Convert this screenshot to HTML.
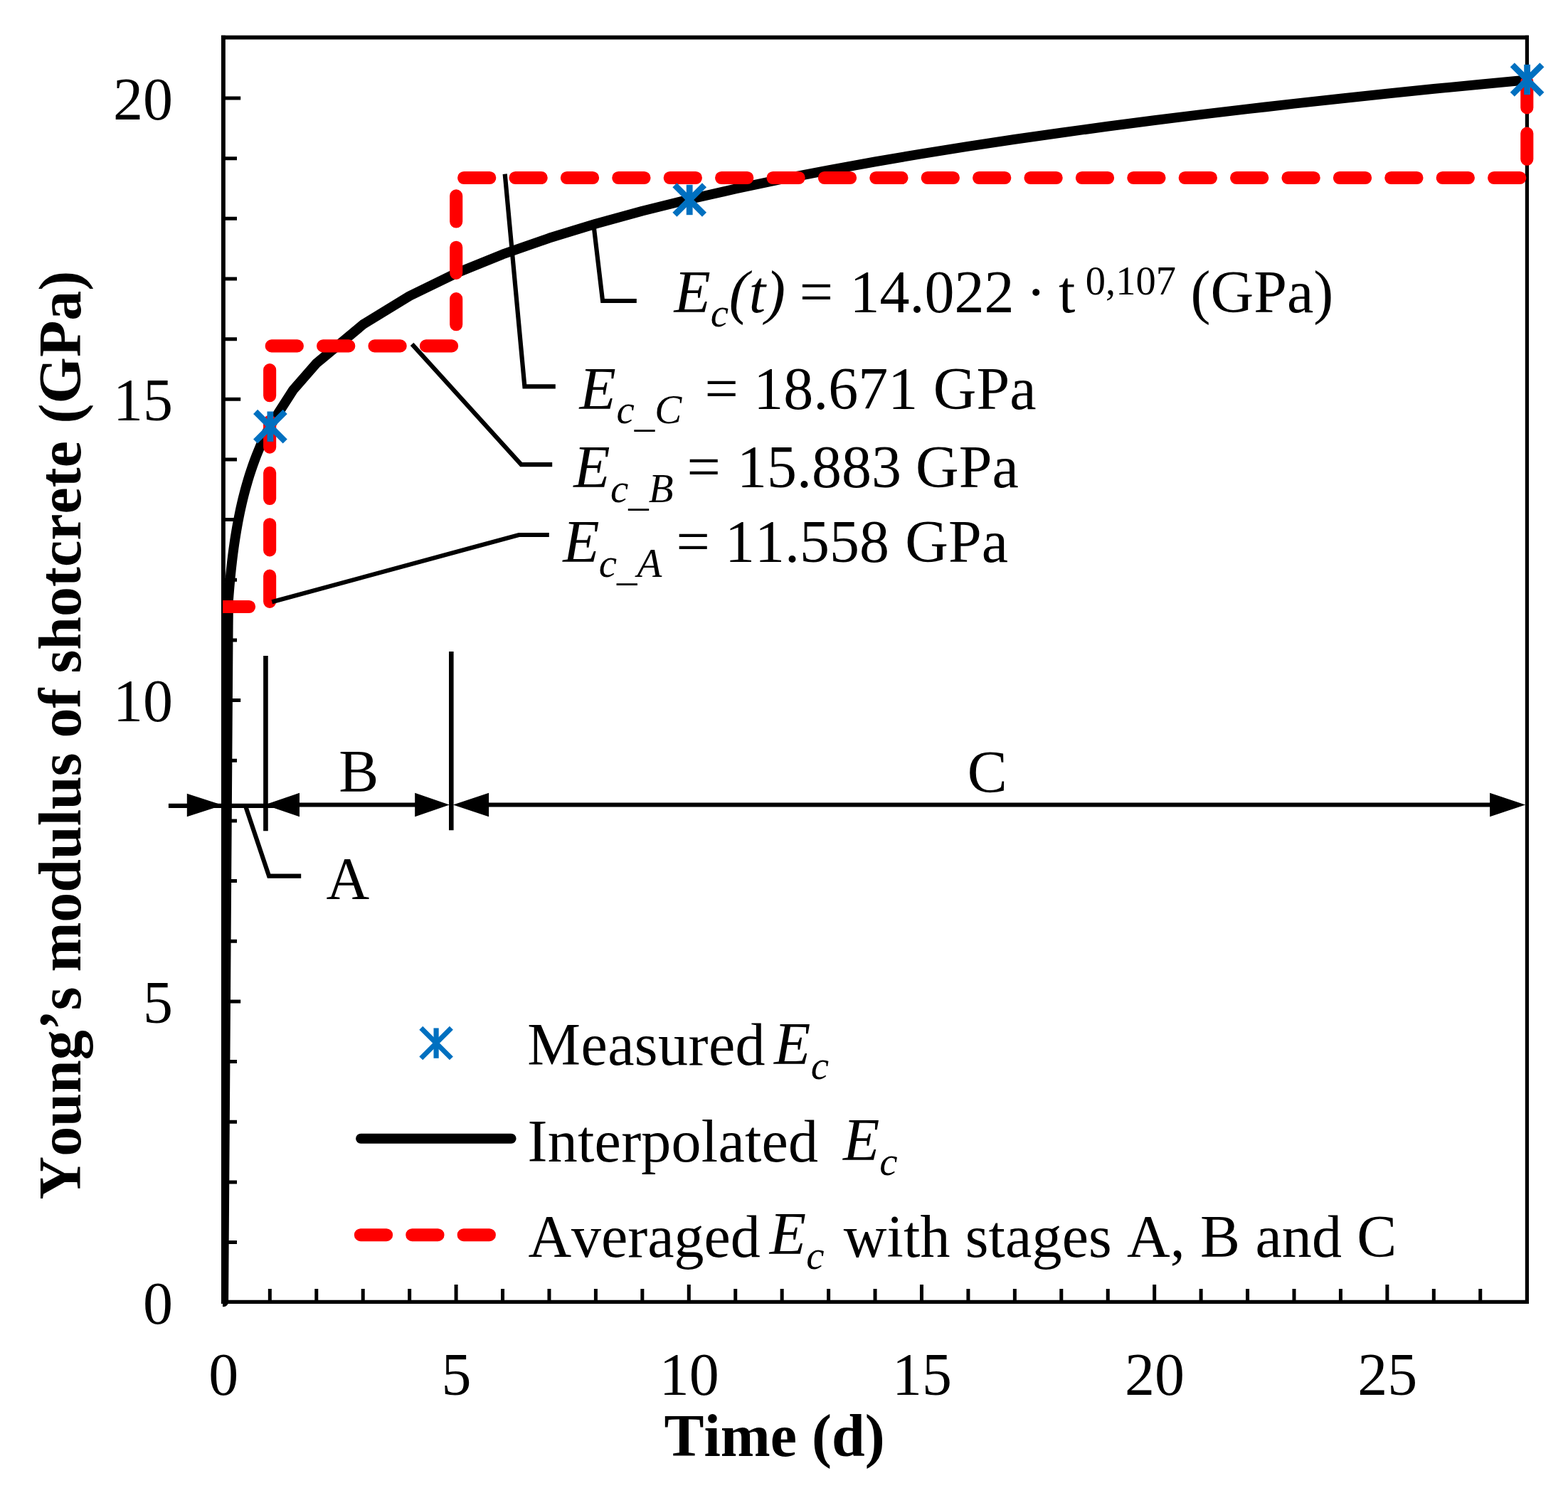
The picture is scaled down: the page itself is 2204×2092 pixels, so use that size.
<!DOCTYPE html>
<html lang="en"><head><meta charset="utf-8"><title>Young’s modulus of shotcrete over time</title>
<style>html,body{margin:0;padding:0;background:#fff}body{width:2204px;height:2092px}svg{display:block}text{font-family:"Liberation Serif","Times New Roman",serif;font-kerning:none;font-variant-ligatures:none;fill:#000;white-space:pre}.i{font-style:italic}.b{font-weight:bold}</style>
</head><body>
<svg width="2204" height="2092" viewBox="0 0 2204 2092">
<defs><clipPath id="cc"><rect x="312.9" y="0" width="1900" height="1845"/></clipPath><clipPath id="cr"><rect x="313.2" y="0" width="1900" height="1900"/></clipPath></defs>
<rect width="2204" height="2092" fill="#fff"/>
<g stroke="#000" fill="none" stroke-linecap="butt">
<path d="M313.9 49.8V1833.05" stroke-width="5.9"/>
<path d="M310.95 52.6H2149.0" stroke-width="5.6"/>
<path d="M2146.4 49.8V1833.05" stroke-width="5.2"/>
<path d="M310.95 1830.4H2149.0" stroke-width="5.3"/>
<path d="M313.9 1746.54H333.0M313.9 1661.88H333.0M313.9 1577.22H333.0M313.9 1492.56H333.0M313.9 1407.90H338.2M313.9 1323.24H333.0M313.9 1238.58H333.0M313.9 1153.92H333.0M313.9 1069.26H333.0M313.9 984.60H338.2M313.9 899.94H333.0M313.9 815.28H333.0M313.9 730.62H333.0M313.9 645.96H333.0M313.9 561.30H338.2M313.9 476.64H333.0M313.9 391.98H333.0M313.9 307.32H333.0M313.9 222.66H333.0M313.9 138.00H338.2M379.34 1830.4V1812.1M444.78 1830.4V1812.1M510.22 1830.4V1812.1M575.66 1830.4V1812.1M641.10 1830.4V1806.0M706.54 1830.4V1812.1M771.97 1830.4V1812.1M837.41 1830.4V1812.1M902.85 1830.4V1812.1M968.29 1830.4V1806.0M1033.73 1830.4V1812.1M1099.17 1830.4V1812.1M1164.61 1830.4V1812.1M1230.05 1830.4V1812.1M1295.49 1830.4V1806.0M1360.93 1830.4V1812.1M1426.37 1830.4V1812.1M1491.81 1830.4V1812.1M1557.25 1830.4V1812.1M1622.69 1830.4V1806.0M1688.12 1830.4V1812.1M1753.56 1830.4V1812.1M1819.00 1830.4V1812.1M1884.44 1830.4V1812.1M1949.88 1830.4V1806.0M2015.32 1830.4V1812.1M2080.76 1830.4V1812.1" stroke-width="5"/>
</g>
<text x="243.1" y="1860.90" font-size="84" text-anchor="end">0</text>
<text x="243.1" y="1437.60" font-size="84" text-anchor="end">5</text>
<text x="243.1" y="1014.30" font-size="84" text-anchor="end">10</text>
<text x="243.1" y="591.00" font-size="84" text-anchor="end">15</text>
<text x="243.1" y="167.70" font-size="84" text-anchor="end">20</text>
<text x="314.30" y="1961" font-size="84" text-anchor="middle">0</text>
<text x="641.50" y="1961" font-size="84" text-anchor="middle">5</text>
<text x="968.69" y="1961" font-size="84" text-anchor="middle">10</text>
<text x="1295.89" y="1961" font-size="84" text-anchor="middle">15</text>
<text x="1623.09" y="1961" font-size="84" text-anchor="middle">20</text>
<text x="1950.28" y="1961" font-size="84" text-anchor="middle">25</text>
<text transform="translate(112.7 1686.38) rotate(-90)" font-size="84" class="b">Young’s modulus of shotcrete<tspan dx="3.6"> (GPa)</tspan></text>
<text x="933.49" y="2046.70" font-size="84" class="b">Time (d)</text>
<path d="M314.20 1830.40L320.70 880.00L321.10 843.04L321.53 837.27L321.99 831.47L322.47 825.63L322.99 819.76L323.53 813.85L324.11 807.91L324.72 801.94L325.37 795.93L326.06 789.88L326.79 783.80L327.56 777.68L328.38 771.53L329.25 765.34L330.17 759.12L331.15 752.86L332.19 746.56L333.28 740.23L334.45 733.86L335.68 727.45L336.99 721.00L338.37 714.52L339.84 708.00L341.40 701.44L343.05 694.84L344.79 688.21L346.65 681.53L348.61 674.82L350.70 668.06L352.90 661.27L355.24 654.44L357.72 647.57L360.35 640.65L363.14 633.70L366.10 626.71L369.23 619.67L372.55 612.60L376.07 605.48L379.34 599.18L412.06 548.23L444.78 510.81L510.22 456.21L575.66 416.10L641.10 384.18L706.54 357.58L771.97 334.70L837.41 314.59L902.85 296.63L968.29 280.38L1033.73 265.54L1099.17 251.87L1164.61 239.18L1230.05 227.34L1295.49 216.25L1360.93 205.79L1426.37 195.92L1491.81 186.55L1557.25 177.63L1622.69 169.13L1688.12 161.01L1753.56 153.23L1819.00 145.75L1884.44 138.57L1949.88 131.65L2015.32 124.97L2080.76 118.52L2146.50 112.29" stroke="#000" stroke-width="13.8" stroke-linecap="round" stroke-linejoin="round" fill="none" clip-path="url(#cc)"/>
<path d="M313.9 853.0H379.15V486.4H641.2V250.0H2146.3V112.5" stroke="#f00" stroke-width="18.1" stroke-dasharray="36.2 36.2" stroke-linecap="round" stroke-linejoin="round" fill="none" clip-path="url(#cr)"/>
<path d="M359.10 578.90L400.70 620.50M359.10 620.50L400.70 578.90" stroke="#0070c0" stroke-width="8.6" fill="none"/><path d="M379.90 578.50V620.90" stroke="#0070c0" stroke-width="8.8" fill="none"/>
<path d="M948.40 260.20L990.00 301.80M948.40 301.80L990.00 260.20" stroke="#0070c0" stroke-width="8.6" fill="none"/><path d="M969.20 259.80V302.20" stroke="#0070c0" stroke-width="8.8" fill="none"/>
<path d="M2125.80 91.20L2167.40 132.80M2125.80 132.80L2167.40 91.20" stroke="#0070c0" stroke-width="8.6" fill="none"/><path d="M2146.60 90.80V133.20" stroke="#0070c0" stroke-width="8.8" fill="none"/>
<g stroke="#000" stroke-width="6.2" fill="none" stroke-linejoin="miter" stroke-miterlimit="10">
<path d="M834.4 316.0L847.1 423.0L894.8 423.0"/>
<path d="M709.7 244.6L737.4 543.4L780.8 543.4"/>
<path d="M579.1 483.8L732.6 653.2L776.2 653.2"/>
<path d="M382.3 846.3L729.4 752.0L771.8 752.0"/>
<path d="M345.0 1133.0L378.1 1231.7L423.2 1231.7"/>
</g>
<path d="M236.9 1132.8H395M420 1131.5H584.2M686.1 1131.5H2095.1" stroke="#000" stroke-width="6.2" fill="none"/>
<path d="M313.0 1132.0L262.8 1115.7V1148.3Z" fill="#000"/>
<path d="M372.0 1131.5L421.0 1114.65V1148.35Z" fill="#000"/>
<path d="M631.8 1131.5L583.2 1114.65V1148.35Z" fill="#000"/>
<path d="M636.8 1131.5L687.1 1114.65V1148.35Z" fill="#000"/>
<path d="M2144.2 1131.5L2094.1 1114.65V1148.35Z" fill="#000"/>
<path d="M373.45 922V1168.2M634.3 915.9V1167.2" stroke="#000" stroke-width="6.6" fill="none"/>
<text x="947.58" y="438.90" font-size="84" class="i">E</text>
<text x="998.73" y="459.30" font-size="57" class="i">c</text>
<text x="1024.82" y="438.90" font-size="84" class="i">(t)</text>
<text x="1123.87" y="438.90" font-size="84">=</text>
<text x="1194.45" y="438.90" font-size="84">14.022</text>
<text x="1442.16" y="438.90" font-size="84">·</text>
<text x="1488.07" y="438.90" font-size="84">t</text>
<text x="1525.75" y="414.00" font-size="56.5">0,107</text>
<text x="1673.54" y="438.90" font-size="84">(GPa)</text>
<text x="814.38" y="574.50" font-size="84" class="i">E</text>
<text x="866.54" y="595.10" font-size="57" class="i">c<tspan dy="5.2">_</tspan><tspan dy="-5.2">C</tspan></text>
<text x="990.57" y="574.50" font-size="84">=</text>
<text x="1059.30" y="574.50" font-size="84">18.671</text>
<text x="1311.81" y="574.50" font-size="84">GPa</text>
<text x="806.28" y="684.90" font-size="84" class="i">E</text>
<text x="857.95" y="705.50" font-size="57" class="i">c<tspan dy="5.2">_</tspan><tspan dy="-5.2">B</tspan></text>
<text x="965.47" y="684.90" font-size="84">=</text>
<text x="1036.00" y="684.90" font-size="84">15.883</text>
<text x="1287.11" y="684.90" font-size="84">GPa</text>
<text x="791.18" y="790.40" font-size="84" class="i">E</text>
<text x="841.65" y="811.00" font-size="57" class="i">c<tspan dy="5.2">_</tspan><tspan dy="-5.2">A</tspan></text>
<text x="950.42" y="790.40" font-size="84">=</text>
<text x="1019.10" y="790.40" font-size="84">11.558</text>
<text x="1272.26" y="790.40" font-size="84">GPa</text>
<text x="476.23" y="1113.20" font-size="84">B</text>
<text x="1359.83" y="1114.40" font-size="84">C</text>
<text x="458.42" y="1264.00" font-size="84">A</text>
<path d="M591.80 1445.30L634.40 1487.90M591.80 1487.90L634.40 1445.30" stroke="#0070c0" stroke-width="7.0" fill="none"/><path d="M613.10 1445.40V1487.80" stroke="#0070c0" stroke-width="7.2" fill="none"/>
<path d="M507.1 1600.7H718.6" stroke="#000" stroke-width="14" stroke-linecap="round" fill="none"/>
<path d="M506.9 1736.2H690" stroke="#f00" stroke-width="18.1" stroke-dasharray="36.2 36.2" stroke-linecap="round" fill="none"/>
<text x="741.28" y="1497.00" font-size="84" letter-spacing="0.45">Measured</text>
<text x="1087.98" y="1495.70" font-size="84" class="i">E</text>
<text x="1139.63" y="1516.50" font-size="57" class="i">c</text>
<text x="741.56" y="1632.50" font-size="84" letter-spacing="0.25">Interpolated</text>
<text x="1184.88" y="1631.05" font-size="84" class="i">E</text>
<text x="1236.28" y="1651.80" font-size="57" class="i">c</text>
<text x="742.38" y="1766.80" font-size="84">Averaged</text>
<text x="1081.68" y="1762.70" font-size="84" class="i">E</text>
<text x="1133.23" y="1783.60" font-size="57" class="i">c</text>
<text x="1185.72" y="1766.80" font-size="84" letter-spacing="0.14">with stages A, B and C</text>
</svg></body></html>
